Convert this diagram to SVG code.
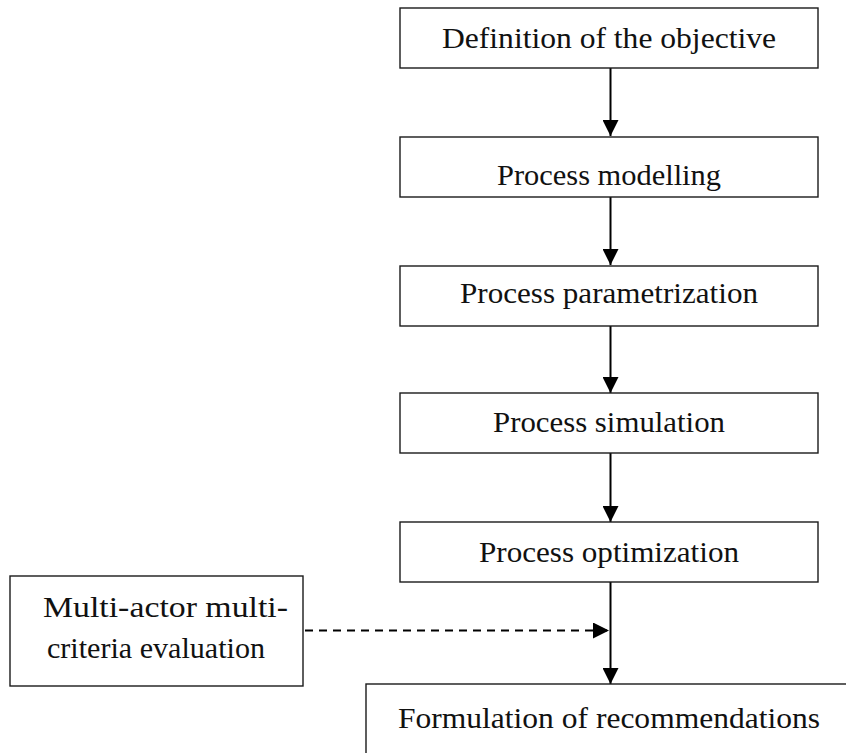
<svg xmlns="http://www.w3.org/2000/svg" width="846" height="753" viewBox="0 0 846 753">
  <style>
    .box { fill: #ffffff; stroke: #1a1a1a; stroke-width: 1.4; }
    .label { font-family: "Liberation Serif", "Times New Roman", serif; font-size: 30px; fill: #111111; }
    .flow { stroke: #000000; stroke-width: 2; fill: none; }
    .dash { stroke: #000000; stroke-width: 2; fill: none; stroke-dasharray: 8 6; }
  </style>
  <defs>
    <marker id="head" viewBox="0 0 16 16" refX="16" refY="8" markerWidth="16" markerHeight="16" markerUnits="userSpaceOnUse" orient="auto">
      <path d="M0,0 L16,8 L0,16 Z" fill="#000000"/>
    </marker>
  </defs>

  <rect width="846" height="753" fill="#ffffff"/>

  <g id="connectors">
    <line class="flow" x1="610.5" y1="68" x2="610.5" y2="136" marker-end="url(#head)"/>
    <line class="flow" x1="610.5" y1="197" x2="610.5" y2="265" marker-end="url(#head)"/>
    <line class="flow" x1="610.5" y1="326" x2="610.5" y2="393" marker-end="url(#head)"/>
    <line class="flow" x1="610.5" y1="453" x2="610.5" y2="522" marker-end="url(#head)"/>
    <line class="flow" x1="610.5" y1="582" x2="610.5" y2="684" marker-end="url(#head)"/>
    <line class="dash" x1="305" y1="630.5" x2="609" y2="630.5" marker-end="url(#head)"/>
  </g>

  <g id="definition">
    <rect class="box" x="400" y="8" width="418" height="60"/>
    <text class="label" x="442" y="48" textLength="334" lengthAdjust="spacingAndGlyphs">Definition of the objective</text>
  </g>

  <g id="modelling">
    <rect class="box" x="400" y="137" width="418" height="60"/>
    <text class="label" x="497" y="185" textLength="224" lengthAdjust="spacingAndGlyphs">Process modelling</text>
  </g>

  <g id="parametrization">
    <rect class="box" x="400" y="266" width="418" height="60"/>
    <text class="label" x="460" y="303" textLength="298" lengthAdjust="spacingAndGlyphs">Process parametrization</text>
  </g>

  <g id="simulation">
    <rect class="box" x="400" y="393" width="418" height="60"/>
    <text class="label" x="493" y="432" textLength="232" lengthAdjust="spacingAndGlyphs">Process simulation</text>
  </g>

  <g id="optimization">
    <rect class="box" x="400" y="522" width="418" height="60"/>
    <text class="label" x="479" y="562" textLength="260" lengthAdjust="spacingAndGlyphs">Process optimization</text>
  </g>

  <g id="evaluation">
    <rect class="box" x="10" y="576" width="293" height="110"/>
    <text class="label" x="43" y="617" textLength="245" lengthAdjust="spacingAndGlyphs">Multi-actor multi-</text>
    <text class="label" x="47" y="658" textLength="218" lengthAdjust="spacingAndGlyphs">criteria evaluation</text>
  </g>

  <g id="recommendations">
    <rect class="box" x="366" y="684" width="500" height="100"/>
    <text class="label" x="398" y="728" textLength="422" lengthAdjust="spacingAndGlyphs">Formulation of recommendations</text>
  </g>
</svg>
